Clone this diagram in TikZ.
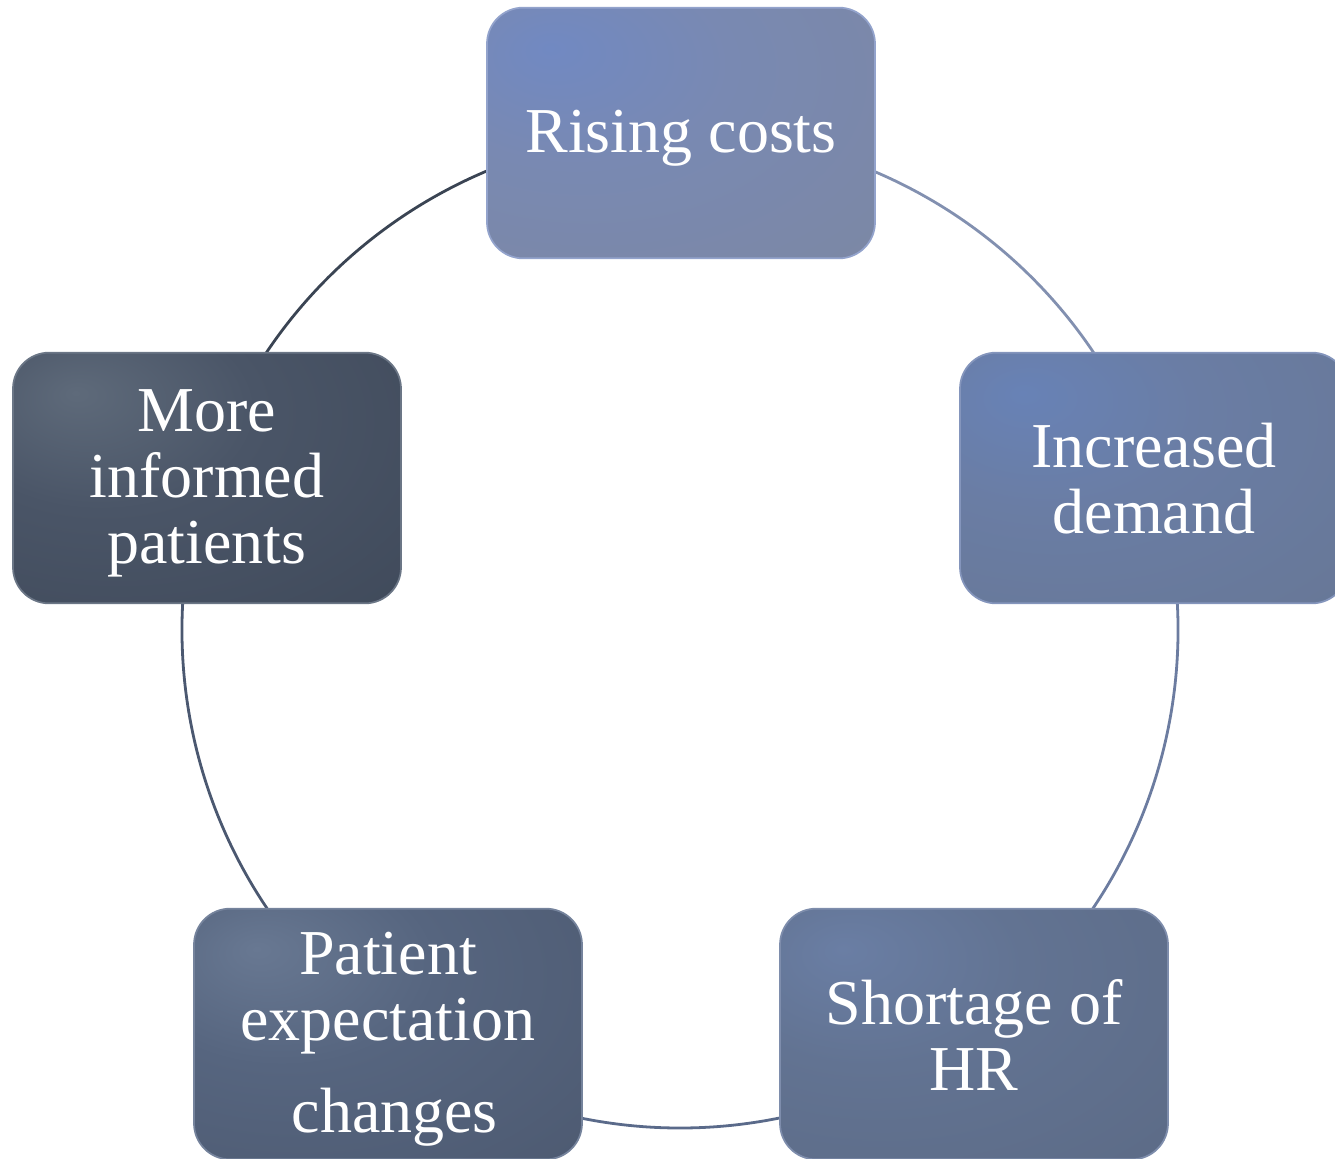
\documentclass[tikz,border=0pt]{standalone}
\usepackage{fontspec}
\setmainfont{Liberation Serif}
\usetikzlibrary{backgrounds}
\definecolor{hlA}{HTML}{7189C2}\definecolor{bsA}{HTML}{7989B2}\definecolor{dkA}{HTML}{7D879F}\definecolor{bdA}{HTML}{93A3CC}
\definecolor{hlB}{HTML}{6882B6}\definecolor{bsB}{HTML}{6A7DA4}\definecolor{dkB}{HTML}{667591}\definecolor{bdB}{HTML}{8495BC}
\definecolor{hlC}{HTML}{6A7EA4}\definecolor{bsC}{HTML}{627392}\definecolor{dkC}{HTML}{5A6882}\definecolor{bdC}{HTML}{7E8DAC}
\definecolor{hlD}{HTML}{687892}\definecolor{bsD}{HTML}{56657F}\definecolor{dkD}{HTML}{4A566C}\definecolor{bdD}{HTML}{75839C}
\definecolor{hlE}{HTML}{5E6A7A}\definecolor{bsE}{HTML}{4A5567}\definecolor{dkE}{HTML}{3C4656}\definecolor{bdE}{HTML}{6B7686}
\definecolor{lnA}{HTML}{3A4453}\definecolor{lnB}{HTML}{8290B0}\definecolor{lnC}{HTML}{6C7CA0}
\definecolor{lnD}{HTML}{5A6A8A}\definecolor{lnE}{HTML}{4B5870}
\newcommand\mkboxshade[4]{\pgfdeclareradialshading{#1}{\pgfpoint{-17bp}{17bp}}{color(0bp)=(#2); color(20bp)=(#3); color(60bp)=(#4); color(100bp)=(#4)}}
\mkboxshade{shA}{hlA}{bsA}{dkA}
\mkboxshade{shB}{hlB}{bsB}{dkB}
\mkboxshade{shC}{hlC}{bsC}{dkC}
\mkboxshade{shD}{hlD}{bsD}{dkD}
\mkboxshade{shE}{hlE}{bsE}{dkE}
\newcommand\boxtext[2][4pt]{\raisebox{-#1}[\height][\depth]{\vbox{\halign{\hfil##\hfil\cr#2\cr}}}}
\begin{document}
\begin{tikzpicture}[x=0.75pt,y=0.75pt,
  box/.style={rectangle, rounded corners=27pt, minimum width=291pt, minimum height=188pt,
    line width=1.3pt, text=white, inner sep=0pt,
    font=\fontsize{48}{49.5}\selectfont},
  ring/.style={line width=2.1pt}]
\useasboundingbox (0,0) rectangle (1335,-1158);
\coordinate (c) at (680,-630);
\node[box, shading=shA, draw=bdA] (rc) at (681,-133) {\boxtext{Rising costs}};
\node[box, shading=shB, draw=bdB] (id) at (1154,-478) {\boxtext[0.5pt]{Increased\cr demand}};
\node[box, shading=shC, draw=bdC] (hr) at (974,-1034) {\boxtext[0.5pt]{Shortage of\cr HR}};
\node[box, shading=shD, draw=bdD] (pe) at (388,-1034) {\boxtext{Patient\cr expectation\cr\noalign{\vskip19pt}\hskip10pt changes}};
\node[box, shading=shE, draw=bdE] (mi) at (207,-478) {\boxtext{More\cr informed\cr patients}};
\begin{scope}[on background layer]
\draw[ring, draw=lnA] ([shift={(90:498)}]c) arc[start angle=90, end angle=162, radius=498];
\draw[ring, draw=lnB] ([shift={(90:498)}]c) arc[start angle=90, end angle=18, radius=498];
\draw[ring, draw=lnC] ([shift={(18:498)}]c) arc[start angle=18, end angle=-54, radius=498];
\draw[ring, draw=lnD] ([shift={(-54:498)}]c) arc[start angle=-54, end angle=-126, radius=498];
\draw[ring, draw=lnE] ([shift={(-126:498)}]c) arc[start angle=-126, end angle=-198, radius=498];
\end{scope}
\end{tikzpicture}
\end{document}
